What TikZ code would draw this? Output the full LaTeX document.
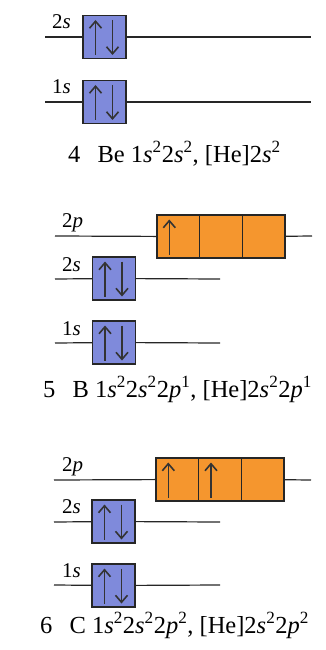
\documentclass[tikz,border=0pt]{standalone}
\usepackage{fontspec}
\setmainfont{Liberation Serif}
\usetikzlibrary{arrows.meta}
\definecolor{sblue}{HTML}{7F8ADB}
\definecolor{porange}{HTML}{F5962E}
\newcommand{\sv}[1]{\textit{#1}}
\newcommand{\su}[1]{\textsuperscript{#1}}
\begin{document}
\begin{tikzpicture}[x=1pt,y=-1pt,
  orb/.style={draw=black!85, line width=1.3pt, minimum width=43pt, minimum height=43pt, inner sep=0pt, outer sep=0pt},
  sorb/.style={orb, fill=sblue},
  porb/.style={orb, fill=porange, minimum width=42.67pt},
  level/.style={line width=1.2pt, black!85},
  spin/.style={line width=1.6pt, black!80, -{Straight Barb[length=7pt,width=12pt]}},
  lab/.style={font=\fontsize{21}{21}\selectfont, anchor=base west, inner sep=0pt},
  captext/.style={font=\fontsize{24.5}{24.5}\selectfont, anchor=base west, inner sep=0pt}]
\useasboundingbox (0,0) rectangle (326,650);

% ---------- Panel 1: Be ----------
\coordinate (a2sL) at (45,37);  \coordinate (a2sR) at (311,37);
\coordinate (a1sL) at (45,102); \coordinate (a1sR) at (311,102);
\node[sorb] (a2s) at (104.5,37) {};
\node[sorb] (a1s) at (104.5,102) {};
\draw[level] (a2sL) -- (a2s); \draw[level] (a2s) -- (a2sR);
\draw[level] (a1sL) -- (a1s); \draw[level] (a1s) -- (a1sR);
\node[lab] (la2s) at (52,29) {2\sv{s}};
\node[lab] (la1s) at (52,94) {1\sv{s}};
\foreach \b in {a2s,a1s}{
  \draw[spin] (\b.center) ++(-9,18) -- ++(0,-35);
  \draw[spin] (\b.center) ++(8,-17) -- ++(0,35);
}
\node[captext] (capa) at (68,162) {4\hspace{0.7em}Be 1\sv{s}\su{2}2\sv{s}\su{2}, [He]2\sv{s}\su{2}};

% ---------- Panel 2: B ----------
\coordinate (b2pL) at (55,236); \coordinate (b2pR) at (312,236);
\coordinate (b2sL) at (55,279); \coordinate (b2sR) at (220,279);
\coordinate (b1sL) at (55,343); \coordinate (b1sR) at (220,343);
\node[porb] (b2pa) at (178.3,236.5) {};
\node[porb] (b2pb) at (221,236.5) {};
\node[porb] (b2pc) at (263.7,236.5) {};
\node[sorb] (b2s) at (114,278.5) {};
\node[sorb] (b1s) at (114,342.5) {};
\draw[level] (b2pL) -- (b2pa); \draw[level] (b2pc) -- (b2pR);
\draw[level] (b2sL) -- (b2s); \draw[level] (b2s) -- (b2sR);
\draw[level] (b1sL) -- (b1s); \draw[level] (b1s) -- (b1sR);
\node[lab] (lb2p) at (62,227) {2\sv{p}};
\node[lab] (lb2s) at (62,271) {2\sv{s}};
\node[lab] (lb1s) at (62,335) {1\sv{s}};
\foreach \b in {b2s,b1s}{
  \draw[spin] (\b.center) ++(-9,18) -- ++(0,-35);
  \draw[spin] (\b.center) ++(8,-17) -- ++(0,35);
}
\draw[spin] (b2pa.center) ++(-9,18) -- ++(0,-35);
\node[captext] (capb) at (43,397) {5\hspace{0.7em}B 1\sv{s}\su{2}2\sv{s}\su{2}2\sv{p}\su{1}, [He]2\sv{s}\su{2}2\sv{p}\su{1}};

% ---------- Panel 3: C ----------
\coordinate (c2pL) at (54,480); \coordinate (c2pR) at (311,480);
\coordinate (c2sL) at (54,522); \coordinate (c2sR) at (220,522);
\coordinate (c1sL) at (54,585); \coordinate (c1sR) at (220,585);
\node[porb] (c2pa) at (177.3,479.5) {};
\node[porb] (c2pb) at (220,479.5) {};
\node[porb] (c2pc) at (262.7,479.5) {};
\node[sorb] (c2s) at (113.5,521.5) {};
\node[sorb] (c1s) at (113.5,585.5) {};
\draw[level] (c2pL) -- (c2pa); \draw[level] (c2pc) -- (c2pR);
\draw[level] (c2sL) -- (c2s); \draw[level] (c2s) -- (c2sR);
\draw[level] (c1sL) -- (c1s); \draw[level] (c1s) -- (c1sR);
\node[lab] (lc2p) at (62,471) {2\sv{p}};
\node[lab] (lc2s) at (62,513) {2\sv{s}};
\node[lab] (lc1s) at (62,577) {1\sv{s}};
\foreach \b in {c2s,c1s}{
  \draw[spin] (\b.center) ++(-9,18) -- ++(0,-35);
  \draw[spin] (\b.center) ++(8,-17) -- ++(0,35);
}
\draw[spin] (c2pa.center) ++(-9,18) -- ++(0,-35);
\draw[spin] (c2pb.center) ++(-9,18) -- ++(0,-35);
\node[captext] (capc) at (40,633) {6\hspace{0.7em}C 1\sv{s}\su{2}2\sv{s}\su{2}2\sv{p}\su{2}, [He]2\sv{s}\su{2}2\sv{p}\su{2}};
\end{tikzpicture}
\end{document}
